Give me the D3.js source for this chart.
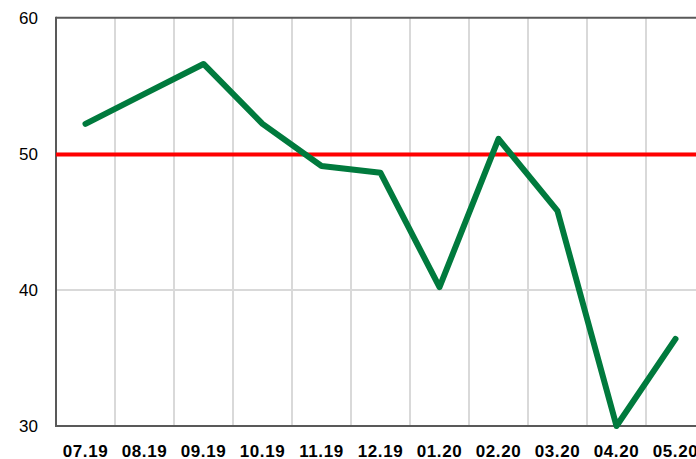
<!DOCTYPE html>
<html><head><meta charset="utf-8">
<script src="https://cdn.jsdelivr.net/npm/d3@7"></script>
<style>html,body{margin:0;padding:0;background:#fff;overflow:hidden}</style>
</head><body>
<svg id="c" width="696" height="459"></svg>
<script>
const categories = ["07.19","08.19","09.19","10.19","11.19","12.19","01.20","02.20","03.20","04.20","05.20"];
const values = [52.2, 54.4, 56.6, 52.2, 49.1, 48.6, 40.2, 51.1, 45.8, 30.0, 36.4];
const yTicks = [30, 40, 50, 60];
const threshold = 50;

(function () {
const svg = d3.select("#c");
const pLeft = 56, pTop = 17.7, pBottom = 426, bandW = 59;
const x = d3.scaleBand().domain(categories).range([pLeft, pLeft + bandW * categories.length]);
const y = d3.scaleLinear().domain([30, 60]).range([pBottom, pTop]);
const pRight = pLeft + bandW * categories.length;

// horizontal gridlines
svg.append("g").selectAll("line").data(yTicks.filter(t => t > 30 && t < 60)).join("line")
  .attr("x1", pLeft).attr("x2", pRight).attr("y1", d => y(d)).attr("y2", d => y(d))
  .attr("stroke", "#d9d9d9").attr("stroke-width", 2);
// vertical gridlines
svg.append("g").selectAll("line").data(categories.slice(0, -1)).join("line")
  .attr("x1", d => x(d) + x.bandwidth()).attr("x2", d => x(d) + x.bandwidth())
  .attr("y1", pTop).attr("y2", pBottom)
  .attr("stroke", "#d9d9d9").attr("stroke-width", 2);

// frame: top, left, bottom
svg.append("line").attr("x1", pLeft).attr("x2", pRight).attr("y1", y(60)).attr("y2", y(60)).attr("stroke", "#595959").attr("stroke-width", 2);
svg.append("line").attr("x1", pLeft).attr("x2", pLeft).attr("y1", y(60) - 1).attr("y2", y(30) + 1).attr("stroke", "#595959").attr("stroke-width", 2);
svg.append("line").attr("x1", pLeft).attr("x2", pRight).attr("y1", y(30)).attr("y2", y(30)).attr("stroke", "#595959").attr("stroke-width", 2);

// threshold line
svg.append("line").attr("x1", pLeft).attr("x2", pRight).attr("y1", y(threshold) + 0.8).attr("y2", y(threshold) + 0.8)
  .attr("stroke", "#ff0000").attr("stroke-width", 4);

// y labels
svg.append("g").selectAll("text").data(yTicks).join("text")
  .attr("x", 38).attr("y", d => y(d) + 6)
  .attr("text-anchor", "end")
  .attr("font-family", "Liberation Sans, Arial, sans-serif").attr("font-size", 17)
  .attr("fill", "#000").text(d => d);

// x labels
svg.append("g").selectAll("text").data(categories).join("text")
  .attr("x", d => x(d) + x.bandwidth() / 2).attr("y", 457)
  .attr("text-anchor", "middle")
  .attr("font-family", "Liberation Sans, Arial, sans-serif").attr("font-size", 17).attr("font-weight", "bold")
  .attr("letter-spacing", 0.6)
  .attr("fill", "#000").text(d => d);

// data line
const line = d3.line().x((d, i) => x(categories[i]) + x.bandwidth() / 2).y(d => y(d));
svg.append("path").datum(values).attr("d", line)
  .attr("fill", "none").attr("stroke", "#007a3d").attr("stroke-width", 6)
  .attr("stroke-linejoin", "round").attr("stroke-linecap", "round");
})();
</script>
</body></html>
